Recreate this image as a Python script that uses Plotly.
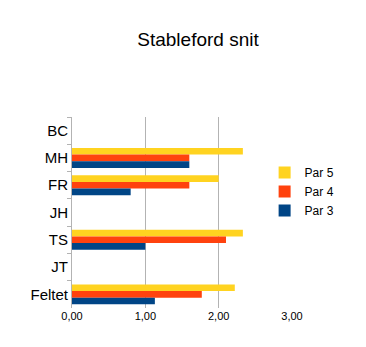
import plotly.graph_objects as go

categories = ["BC", "MH", "FR", "JH", "TS", "JT", "Feltet"]
par5 = [None, 2.33, 2.0, None, 2.33, None, 2.22]
par4 = [None, 1.6, 1.6, None, 2.1, None, 1.77]
par3 = [None, 1.6, 0.8, None, 1.0, None, 1.13]
series_names = ["Par 5", "Par 4", "Par 3"]
colors = ["#FFD320", "#FF420E", "#004586"]
x_ticks = [0, 1, 2, 3]

fig = go.Figure()
for name, vals, col in zip(series_names, [par5, par4, par3], colors):
    fig.add_trace(go.Bar(y=categories, x=vals, name=name, orientation="h",
                         marker=dict(color=col, line=dict(width=0))))

fig.update_layout(
    width=366, height=347,
    margin=dict(l=72, r=74, t=117, b=39, autoexpand=False),
    paper_bgcolor="white", plot_bgcolor="white",
    barmode="group", bargap=0.27, bargroupgap=0,
    separators=",.",
    font=dict(family="Liberation Sans, Arial, sans-serif", color="#000000"),
    title=dict(text="Stableford snit", x=198/366, xanchor="center",
               y=1-39/347, yanchor="middle",
               font=dict(size=19, color="#000000")),
    legend=dict(xref="container", yref="container",
                x=0.723, y=0.545, xanchor="left", yanchor="top",
                traceorder="normal", font=dict(size=12),
                itemwidth=30, tracegroupgap=2, bgcolor="rgba(0,0,0,0)"),
    xaxis=dict(range=[0, 3], tickvals=x_ticks, tickformat=".2f",
               showgrid=True, gridcolor="#b3b3b3", gridwidth=1,
               zeroline=False, showline=False, ticks="",
               tickfont=dict(size=11), fixedrange=True),
    yaxis=dict(categoryorder="array", categoryarray=categories,
               autorange="reversed", showgrid=False, zeroline=False,
               showline=True, linecolor="#b3b3b3", linewidth=1,
               ticks="outside", tickson="boundaries", ticklen=4,
               tickcolor="#b3b3b3", tickfont=dict(size=15)),
)

fig.write_html("out.html")
